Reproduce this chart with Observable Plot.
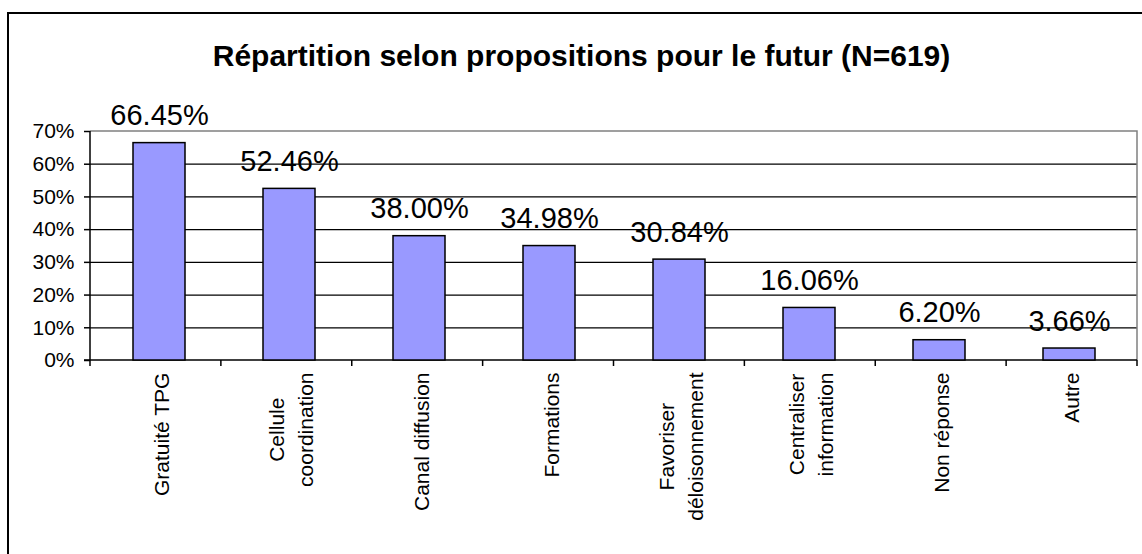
<!DOCTYPE html>
<html>
<head>
<meta charset="utf-8">
<script src="https://cdn.jsdelivr.net/npm/d3@7"></script>
<script src="https://cdn.jsdelivr.net/npm/@observablehq/plot@0.6"></script>
<style>
  html, body { margin: 0; padding: 0; background: #fff; }
  #wrap { position: relative; width: 1142px; height: 554px; overflow: hidden; font-family: "Liberation Sans", Arial, sans-serif; }
  #frame { position: absolute; left: 7px; top: 12px; width: 1200px; height: 600px; border: 2px solid #000; box-sizing: border-box; pointer-events: none; }
  #title { position: relative; height: 100px; box-sizing: border-box; padding-top: 41px; padding-left: 21px; line-height: 30px; font-size: 30px; font-weight: bold; text-align: center; color: #000; white-space: nowrap; }
  #chart { position: relative; }
</style>
</head>
<body>
<div id="wrap">
  <div id="frame"></div>
  <div id="title">Répartition selon propositions pour le futur (N=619)</div>
  <div id="chart"></div>
</div>
<script>
const categories = ["Gratuité TPG", "Cellule\ncoordination", "Canal diffusion", "Formations", "Favoriser\ndéloisonnement", "Centraliser\ninformation", "Non réponse", "Autre"];
const values = [66.45, 52.46, 38.00, 34.98, 30.84, 16.06, 6.20, 3.66];
const yTicks = [0, 10, 20, 30, 40, 50, 60, 70];

const data = categories.map((c, i) => ({cat: c, value: values[i]}));

const FONT = "'Liberation Sans', Arial, sans-serif";
const catFontSize = 21;
const ctx = document.createElement("canvas").getContext("2d");
ctx.font = `${catFontSize}px ${FONT}`;
function maxLineWidth(s) {
  return d3.max(s.split("\n"), l => ctx.measureText(l).width);
}

// custom mark: axis lines, plot border, tick marks between categories
function frameMark(index, scales, values, dims) {
  const {width, height, marginLeft, marginRight, marginTop, marginBottom} = dims;
  const left = marginLeft, right = width - marginRight, top = marginTop, bottom = height - marginBottom;
  const g = d3.create("svg:g");
  g.append("path").attr("d", `M${left},${top}H${right}V${bottom}`).attr("fill", "none").attr("stroke", "#808080").attr("stroke-width", 1.5);
  g.append("line").attr("x1", left).attr("x2", left).attr("y1", top).attr("y2", bottom).attr("stroke", "#000").attr("stroke-width", 1.5);
  g.append("line").attr("x1", left - 6).attr("x2", right).attr("y1", bottom).attr("y2", bottom).attr("stroke", "#000").attr("stroke-width", 1.5);
  const n = categories.length;
  const step = (right - left) / n;
  for (let i = 0; i <= n; i++) {
    const x = left + i * step;
    g.append("line").attr("x1", x).attr("x2", x).attr("y1", bottom).attr("y2", bottom + 6).attr("stroke", "#000").attr("stroke-width", 1.5);
  }
  return g.node();
}

const catLabelMarks = categories.map(c => Plot.text([c], {
  x: d => d,
  frameAnchor: "bottom",
  text: d => d,
  rotate: -90,
  textAnchor: "middle",
  lineAnchor: "middle",
  lineHeight: 1.35,
  fontSize: catFontSize,
  dy: 12 + maxLineWidth(c) / 2,
  fill: "#000"
}));

const plot = Plot.plot({
  width: 1142,
  height: 454,
  marginLeft: 90,
  marginRight: 5,
  marginTop: 31,
  marginBottom: 194,
  style: {fontFamily: FONT, fontSize: "21px", color: "#000", background: "transparent", overflow: "visible"},
  x: {domain: categories, paddingInner: 0.6, paddingOuter: 0.3, axis: null},
  y: {domain: [0, 70], axis: null},
  marks: [
    Plot.ruleY(yTicks.filter(t => t > 0 && t < 70), {stroke: "#000", strokeWidth: 1.2}),
    Plot.axisY(yTicks, {label: null, tickSize: 6, tickPadding: 10, tickFormat: d => d + "%", fontSize: 21, stroke: "#000", strokeWidth: 1.5}),
    frameMark,
    Plot.barY(data, {x: "cat", y: "value", fill: "#9999ff", stroke: "#000", strokeWidth: 1.5}),
    Plot.text(data, {x: "cat", y: "value", text: d => d.value.toFixed(2) + "%", lineAnchor: "bottom", dy: -18, fontSize: 29, fill: "#000"}),
    ...catLabelMarks
  ]
});
document.getElementById("chart").appendChild(plot);
</script>
</body>
</html>
